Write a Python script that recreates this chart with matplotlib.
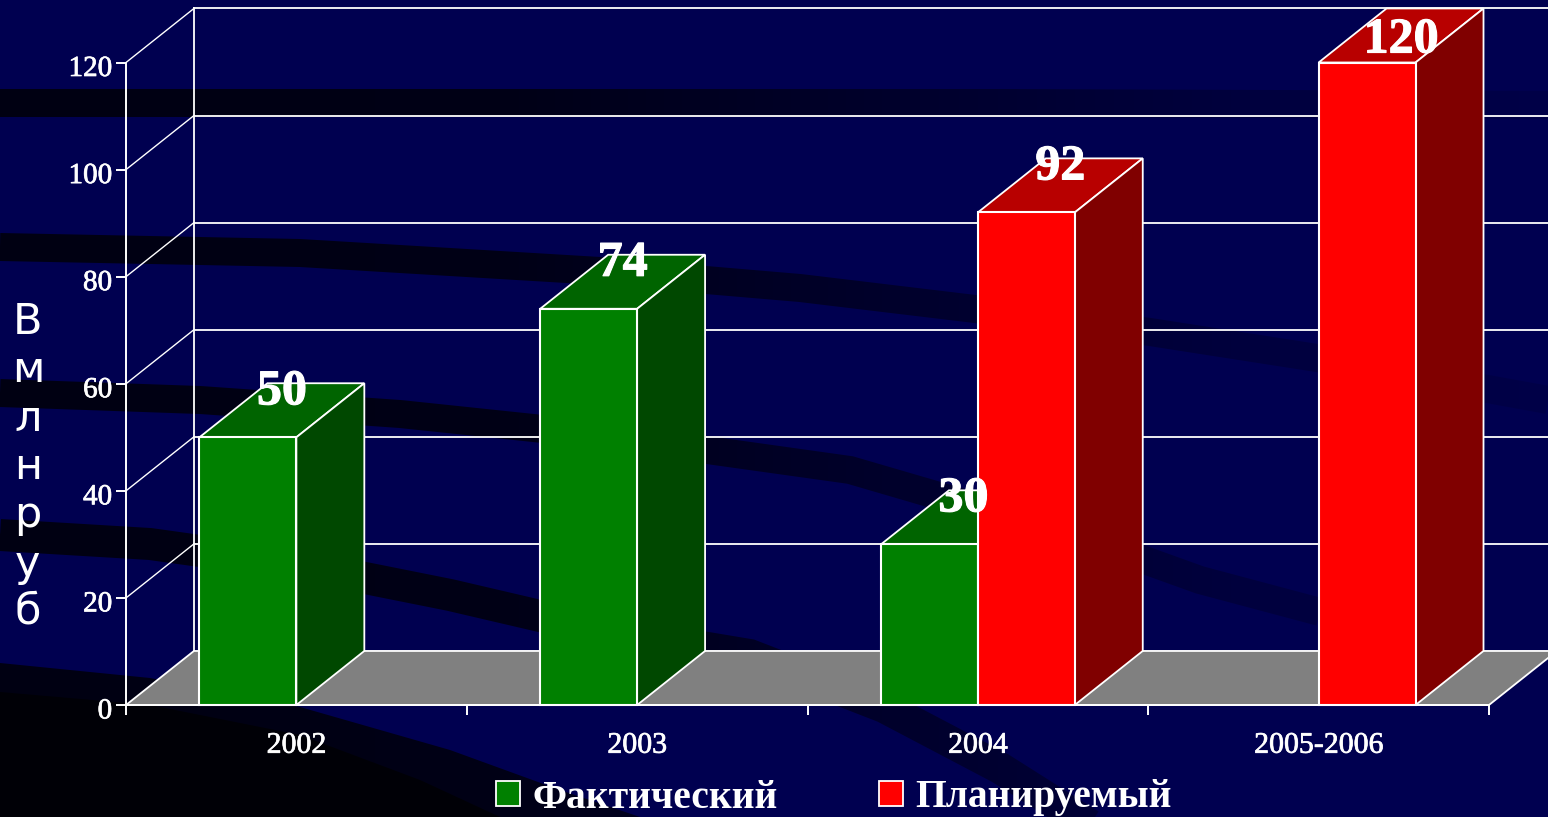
import numpy as np
import matplotlib
matplotlib.use("Agg")
import matplotlib.pyplot as plt
import matplotlib.patheffects as pe
from matplotlib.patches import Patch
from matplotlib.path import Path
from matplotlib.transforms import ScaledTranslation

# ── Data ───────────────────────────────────────────
categories = ['2002', '2003', '2004', '2005-2006']
actual = [50, 74, 30, np.nan]
planned = [np.nan, np.nan, 92, 120]
y_ticks = [0, 20, 40, 60, 80, 100, 120]
y_title = 'В\nм\nл\nн\nр\nу\nб'

# ── Background swooshes, in picture pixels ─────────
band_1 = [(0, 103), (500, 103), (1000, 103), (1548, 105)]
band_2 = [(0, 247), (300, 253), (600, 271), (800, 288), (1000, 312), (1150, 332), (1317, 358), (1548, 400)]
band_3 = [(0, 393), (200, 400), (400, 414), (600, 435), (850, 470), (1083, 538), (1200, 580), (1320, 612)]
band_4 = [(0, 535), (150, 544), (300, 565), (450, 595), (600, 630), (750, 655), (884, 707), (1000, 768), (1090, 825)]
band_widths = [28, 28, 28, 32]
dark_corner = [(0, 663), (150, 678), (300, 707), (450, 750), (560, 790), (640, 817), (0, 817)]
black_corner = [(0, 692), (150, 705), (300, 735), (420, 780), (500, 817), (0, 817)]

# ── Colours ────────────────────────────────────────
NAVY = '#000050'
GREEN = ('#008000', '#006400', '#004800')
RED = ('#ff0000', '#b80000', '#800000')

DEPTH_X = 68 / 341
DEPTH_Y = 54 / 5.35
BAR_W = 97 / 341

fig = plt.figure(figsize=(15.48, 8.17), dpi=100, facecolor=NAVY)


def ribbon(points, width):
    """Closed outline of a band of constant width around a polyline."""
    pts = np.array(points, dtype=float)
    d = np.gradient(pts, axis=0)
    n = np.column_stack([-d[:, 1], d[:, 0]]) / np.hypot(d[:, 0], d[:, 1])[:, None]
    return np.vstack([pts + n * width / 2, (pts - n * width / 2)[::-1]])


# ── Background layer ──
bg = fig.add_axes([0, 0, 1, 1], zorder=0)
bg.set_xlim(0, 1548)
bg.set_ylim(817, 0)
bg.axis('off')
# the swooshes fade out towards the right
blue = np.interp(np.arange(1548), [0, 500, 900, 1250, 1548], [18, 22, 44, 62, 72]) / 255
gradient = np.zeros((1, 1548, 3))
gradient[0, :, 2] = blue
shapes = [ribbon(b, w) for b, w in zip((band_1, band_2, band_3, band_4), band_widths)] + [np.array(dark_corner, dtype=float)]
verts, codes = [], []
for s in shapes:
    verts.extend(s.tolist() + [s[0].tolist()])
    codes.extend([Path.MOVETO] + [Path.LINETO] * (len(s) - 1) + [Path.CLOSEPOLY])
im = bg.imshow(gradient, extent=[0, 1548, 817, 0], aspect='auto', zorder=1)
im.set_clip_path(Path(verts, codes), transform=bg.transData)
bg.fill(*zip(*black_corner), color='#000006', lw=0, zorder=2)

# ── Chart layer ──
ax = fig.add_axes([126 / 1548, (817 - 705) / 817, (1489 - 126) / 1548, (705 - 62.5) / 817], zorder=1)
ax.patch.set_visible(False)
ax.set_xlim(0, 4)
ax.set_ylim(0, 120)


def draw_bar(x, value, colors):
    """Front face through ax.bar, then the top and side faces behind it."""
    ax.fill([x, x + BAR_W, x + BAR_W + DEPTH_X, x + DEPTH_X],
            [value, value, value + DEPTH_Y, value + DEPTH_Y],
            facecolor=colors[1], edgecolor='white', lw=1.3, clip_on=False, zorder=4)
    ax.fill([x + BAR_W, x + BAR_W + DEPTH_X, x + BAR_W + DEPTH_X, x + BAR_W],
            [0, DEPTH_Y, value + DEPTH_Y, value],
            facecolor=colors[2], edgecolor='white', lw=1.3, clip_on=False, zorder=4)
    ax.bar(x, value, BAR_W, align='edge', color=colors[0], edgecolor='white', lw=1.5,
           clip_on=False, zorder=5)


# back wall and side wall grid
for v in y_ticks[1:]:
    ax.plot([0, DEPTH_X], [v, v + DEPTH_Y], color='white', lw=1.0, clip_on=False, zorder=2)
    ax.plot([DEPTH_X, 4 + DEPTH_X], [v + DEPTH_Y, v + DEPTH_Y], color='white', lw=1.3, clip_on=False, zorder=2)
ax.plot([DEPTH_X, DEPTH_X], [DEPTH_Y, 120 + DEPTH_Y], color='white', lw=1.3, clip_on=False, zorder=2)

# floor
ax.fill([0, 4, 4 + DEPTH_X, DEPTH_X], [0, 0, DEPTH_Y, DEPTH_Y],
        facecolor='#808080', edgecolor='white', lw=1.3, clip_on=False, zorder=3)

centers = np.arange(len(categories)) + 0.5
for c, value in zip(centers, actual):
    if not np.isnan(value):
        draw_bar(c - BAR_W, value, GREEN)
for c, value in zip(centers, planned):
    if not np.isnan(value):
        draw_bar(c, value, RED)

# value labels, kept under the top of the back wall
for offset, series in ((-BAR_W / 2, actual), (BAR_W / 2, planned)):
    for c, value in zip(centers, series):
        if not np.isnan(value):
            ax.text(c + offset + DEPTH_X / 2, min(value + 8.4, 124.1), str(value), color='white',
                    family='Liberation Serif', fontweight='bold', fontsize=36,
                    ha='center', va='center', clip_on=False, zorder=8,
                    path_effects=[pe.withStroke(linewidth=0.8, foreground='white')])

# axes
for side in ('top', 'right'):
    ax.spines[side].set_visible(False)
for side in ('left', 'bottom'):
    ax.spines[side].set_color('white')
    ax.spines[side].set_linewidth(1.4)
    ax.spines[side].set_zorder(6)
ax.set_yticks(y_ticks)
ax.set_yticklabels([str(v) for v in y_ticks], family='Liberation Serif', fontsize=21, color='white')
ax.tick_params(axis='y', colors='white', length=7, width=1.4, pad=3)
ax.set_xticks(centers)
ax.set_xticklabels(categories, family='Liberation Serif', fontsize=21.5, color='white')
ax.tick_params(axis='x', which='major', length=0, pad=20)
ax.set_xticks(np.arange(len(categories) + 1), minor=True)
ax.tick_params(axis='x', which='minor', colors='white', length=7, width=1.4)

# y labels sit a little below their ticks
shift = ScaledTranslation(0, -3.5 / 100, fig.dpi_scale_trans)
for label in ax.get_yticklabels():
    label.set_transform(label.get_transform() + shift)
for label in ax.get_yticklabels() + ax.get_xticklabels():
    label.set_path_effects([pe.withStroke(linewidth=0.5, foreground='white')])

fig.text(28 / 1548, 1 - 467 / 817, y_title, color='white', family='DejaVu Sans', fontsize=31,
         ha='center', va='center', linespacing=1.19)

handles = [Patch(facecolor=GREEN[0], edgecolor='white', lw=1.3),
           Patch(facecolor=RED[0], edgecolor='white', lw=1.3)]
fig.legend(handles, ['Фактический', 'Планируемый'], ncol=2, frameon=False,
           loc='center', bbox_to_anchor=(834 / 1548, 1 - 798 / 817),
           prop={'family': 'Liberation Serif', 'weight': 'bold', 'size': 28.5},
           labelcolor='white', handlelength=0.6, handleheight=0.62,
           handletextpad=0.33, columnspacing=2.55)

fig.savefig('out.png', dpi=100, facecolor=fig.get_facecolor())
